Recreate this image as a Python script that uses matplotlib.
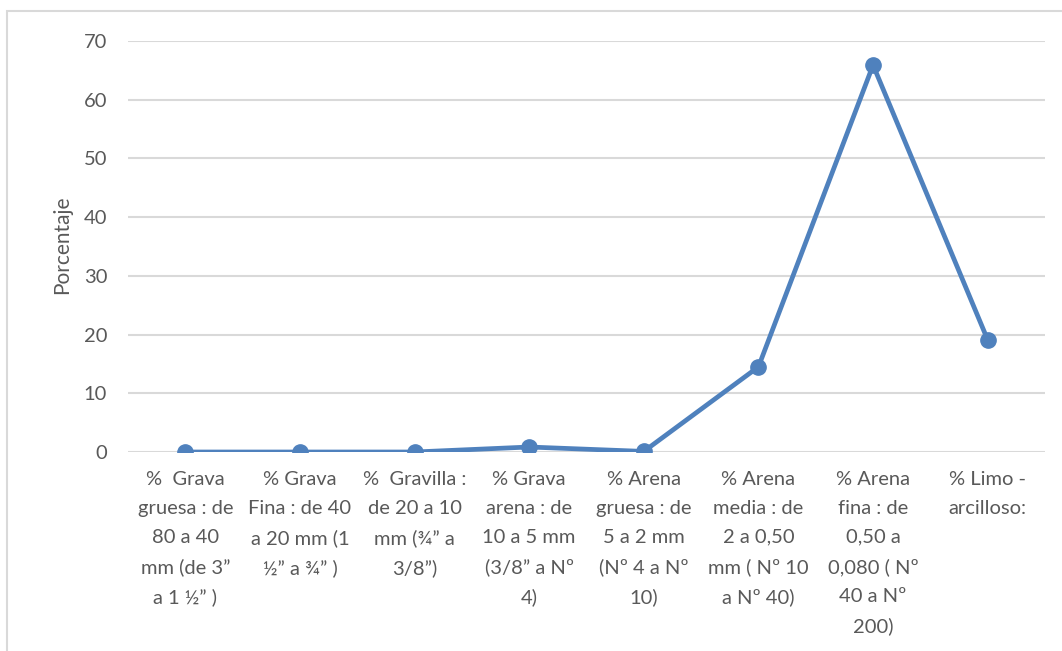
import matplotlib.pyplot as plt
from matplotlib.patches import Rectangle

plt.rcParams['font.family'] = ['Lato', 'DejaVu Sans']

categorias = [
    "%  Grava\ngruesa : de\n80 a 40\nmm (de 3”\na 1 ½” )",
    "% Grava\nFina : de 40\na 20 mm (1\n½” a ¾” )",
    "%  Gravilla :\nde 20 a 10\nmm (¾” a\n3/8”)",
    "% Grava\narena : de\n10 a 5 mm\n(3/8” a Nº\n4)",
    "% Arena\ngruesa : de\n5 a 2 mm\n(Nº 4 a Nº\n10)",
    "% Arena\nmedia : de\n2 a 0,50\nmm ( Nº 10\na Nº 40)",
    "% Arena\nfina : de\n0,50 a\n0,080 ( Nº\n40 a Nº\n200)",
    "% Limo -\narcilloso:",
]
porcentajes = [0, 0, 0, 0.85, 0.1, 14.5, 65.9, 19.1]
yticks = [0, 10, 20, 30, 40, 50, 60, 70]

W, H = 1062, 651
fig = plt.figure(figsize=(W / 100, H / 100), dpi=100)
ax = fig.add_axes([128 / W, 1 - 452 / H, (1045 - 128) / W, (452 - 41) / H])

# marco del gráfico
fig.patches.append(Rectangle((7 / W, -0.05), 1.1, 1 - 11 / H + 0.05,
                             transform=fig.transFigure, fill=False,
                             edgecolor='#D9D9D9', linewidth=1.5))

x = list(range(len(categorias)))
ax.plot(x, porcentajes, color='#4F81BD', linewidth=3.4, marker='o',
        markersize=11, zorder=3, solid_joinstyle='round')

ax.set_xlim(-0.5, len(categorias) - 0.5)
ax.set_ylim(0, 70)
ax.set_yticks(yticks)
ax.yaxis.grid(True, color='#D9D9D9', linewidth=1.5)
ax.set_axisbelow(True)
for s in ax.spines.values():
    s.set_visible(False)
ax.tick_params(length=0)
ax.tick_params(axis='y', labelsize=14.5, labelcolor='#595959', pad=15)
ax.set_xticks(x)
ax.set_xticklabels(categorias, fontsize=14.5, color='#595959', linespacing=1.83)
ax.tick_params(axis='x', pad=14)

fig.text(62 / W, 1 - 245 / H, "Porcentaje", rotation=90, fontsize=15,
         color='#595959', ha='center', va='center')

fig.savefig('out.png', dpi=100)
